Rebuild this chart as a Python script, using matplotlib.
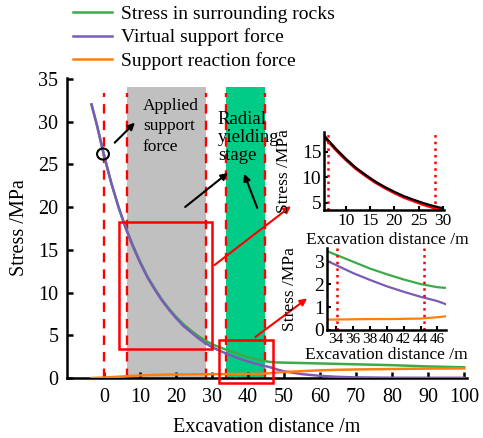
import matplotlib
matplotlib.use("Agg")
import matplotlib.pyplot as plt
from matplotlib.patches import Rectangle, Ellipse

plt.rcParams["font.family"] = ["Liberation Serif", "DejaVu Serif"]

# excavation distance (m) and stresses (MPa)
dist = [-3.5, -2, 0, 2, 4, 6, 8, 10, 12, 14, 16, 18, 20, 22, 24, 26, 28, 30,
        32, 34, 36, 38, 40, 42, 44, 46, 48, 50, 55, 60, 65, 70, 80, 90, 100]
rock_stress = [32.0, 29.6, 26.0, 22.8, 20.0, 17.6, 15.5, 13.6, 11.9, 10.5, 9.2,
               8.1, 7.15, 6.3, 5.6, 4.95, 4.4, 3.95, 3.6, 3.3, 3.0, 2.7, 2.45,
               2.22, 2.02, 1.88, 1.82, 1.8, 1.75, 1.7, 1.65, 1.6, 1.5, 1.35, 1.25]
virtual_force = [32.0, 29.6, 26.0, 22.8, 20.0, 17.5, 15.4, 13.5, 11.8, 10.4, 9.1,
                 8.0, 7.0, 6.1, 5.4, 4.7, 4.1, 3.6, 3.2, 2.85, 2.5, 2.2, 1.92,
                 1.68, 1.46, 1.27, 1.0, 0.78, 0.45, 0.25, 0.13, 0.07, 0.03, 0.02, 0.02]
reaction_force = [0.0, 0.02, 0.05, 0.1, 0.15, 0.2, 0.25, 0.3, 0.33, 0.36, 0.38,
                  0.4, 0.41, 0.42, 0.43, 0.44, 0.44, 0.45, 0.45, 0.46, 0.47, 0.48,
                  0.48, 0.49, 0.5, 0.56, 0.64, 0.7, 0.8, 0.9, 0.96, 1.0, 1.05, 1.1, 1.12]

stage_lines = [0, 6.3, 28.4, 33.9, 44.8]
support_zone = (6.3, 28.4)
yield_zone = (33.9, 44.8)

c_green = "#3daa48"
c_purple = "#7a5cb8"
c_orange = "#ff7f0e"

fig = plt.figure(figsize=(4.83, 4.38), dpi=100)
ax = fig.add_axes([0.138, 0.137, 0.829, 0.685])

ax.fill_between(support_zone, 0, 34, color="#c0c0c0", lw=0, zorder=1)
ax.fill_between(yield_zone, 0, 34, color="#00cc88", lw=0, zorder=1)
for xv in stage_lines:
    ax.plot([xv, xv], [0, 33.3], color="red", ls=(0, (4, 3)), lw=1.7, zorder=2)

l1, = ax.plot(dist, rock_stress, color=c_green, lw=1.8, zorder=3,
              label="Stress in surrounding rocks")
l2, = ax.plot(dist, virtual_force, color=c_purple, lw=1.8, zorder=4,
              label="Virtual support force")
l3, = ax.plot(dist, reaction_force, color=c_orange, lw=1.8, zorder=5,
              label="Support reaction force")

ax.set_xlim(-10.4, 100.8)
ax.set_ylim(0, 35.1)
ax.set_xticks(range(0, 101, 10))
ax.set_yticks(range(0, 36, 5))
ax.tick_params(direction="in", width=1.8, length=4, labelsize=14.5)
ax.tick_params(axis="x", pad=7)
ax.tick_params(axis="y", pad=6)
for s in ["top", "right"]:
    ax.spines[s].set_visible(False)
for s in ["left", "bottom"]:
    ax.spines[s].set_linewidth(1.8)
ax.set_xlabel("Excavation distance /m", fontsize=14.5)
ax.set_ylabel("Stress /MPa", fontsize=14.5)
ax.xaxis.set_label_coords(0.5, -0.135)
ax.yaxis.set_label_coords(-0.095, 0.5)

# zoom boxes
ax.add_patch(Rectangle((4.2, 3.4), 25.8, 14.8, fill=False, ec="red", lw=1.8,
                       zorder=6, clip_on=False))
ax.add_patch(Rectangle((31.8, -0.6), 15.2, 5.0, fill=False, ec="red", lw=1.8,
                       zorder=6, clip_on=False))
ax.add_patch(Ellipse((-0.3, 26.2), 3.3, 1.3, fill=False, ec="black", lw=1.5,
                     zorder=7))

ax.text(10.8, 32.8, "Applied\nsupport\nforce", fontsize=12.5, va="top",
        linespacing=1.4, zorder=8)
ax.text(31.6, 31.2, "Radial\nyielding\nstage", fontsize=13.5, va="top",
        linespacing=1.05, zorder=8)

black_arrow = dict(arrowstyle="-|>", color="black", lw=1.5, mutation_scale=10)
red_arrow = dict(arrowstyle="-|>", color="red", lw=1.5, mutation_scale=10)
ax.annotate("", xy=(9.1, 30.1), xytext=(2.4, 27.3), arrowprops=black_arrow, zorder=8)
ax.annotate("", xy=(35.0, 24.2), xytext=(21.9, 19.8), arrowprops=black_arrow, zorder=8)
ax.annotate("", xy=(38.6, 24.2), xytext=(42.8, 19.6), arrowprops=black_arrow, zorder=8)
ax.annotate("", xy=(52.5, 20.3), xytext=(30.0, 13.0), arrowprops=red_arrow,
            annotation_clip=False, zorder=8)
ax.annotate("", xy=(57.0, 9.5), xytext=(41.4, 4.6), arrowprops=red_arrow,
            annotation_clip=False, zorder=8)

fig.legend(handles=[l1, l2, l3], loc="upper left",
           bbox_to_anchor=(73 / 483, 1 - 5 / 438), frameon=False, fontsize=14,
           handlelength=2.0, handletextpad=0.45, labelspacing=0.3,
           borderpad=0, borderaxespad=0)

# inset 1: applied support force stage
ax1 = fig.add_axes([0.671, 0.5205, 0.248, 0.178])
ax1.plot(dist, virtual_force, color="red", lw=2.4)
ax1.plot(dist, rock_stress, color="black", lw=1.6)
for xv in [6.3, 28.3]:
    ax1.axvline(xv, color="red", ls=":", lw=1.8)
ax1.set_xlim(5.5, 30.2)
ax1.set_ylim(3.6, 18.9)
ax1.set_xticks([10, 15, 20, 25, 30])
ax1.set_yticks([5, 10, 15])

# inset 2: radial yielding stage
ax2 = fig.add_axes([0.677, 0.2466, 0.246, 0.187])
ax2.plot(dist, rock_stress, color=c_green, lw=1.6)
ax2.plot(dist, virtual_force, color=c_purple, lw=1.6)
ax2.plot(dist, reaction_force, color=c_orange, lw=1.6)
for xv in [34.1, 44.4]:
    ax2.axvline(xv, color="red", ls=":", lw=1.8)
ax2.set_xlim(32.9, 47)
ax2.set_ylim(0, 3.6)
ax2.set_xticks(range(34, 47, 2))
ax2.set_yticks([0, 1, 2, 3])

for a, xs in [(ax1, 12.5), (ax2, 11)]:
    a.patch.set_alpha(0)
    for s in ["top", "right"]:
        a.spines[s].set_visible(False)
    for s in ["left", "bottom"]:
        a.spines[s].set_linewidth(1.8)
    a.tick_params(direction="in", width=1.5, length=3, pad=2)
    a.tick_params(axis="x", labelsize=xs)
    a.tick_params(axis="y", labelsize=14)
    a.set_xlabel("Excavation distance /m", fontsize=12.5)
    a.set_ylabel("Stress /MPa", fontsize=12.5)
ax1.xaxis.set_label_coords(0.53, -0.28)
ax1.yaxis.set_label_coords(-0.27, 0.5)
ax2.xaxis.set_label_coords(0.5, -0.21)
ax2.yaxis.set_label_coords(-0.24, 0.5)

fig.savefig("out.png", dpi=100)
